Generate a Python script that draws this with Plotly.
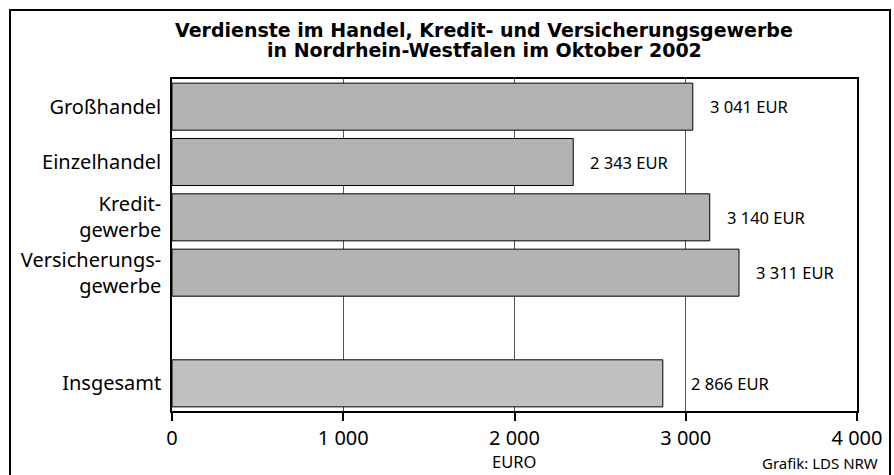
import plotly.graph_objects as go

categories = ["Großhandel", "Einzelhandel", "Kredit-<br>gewerbe", "Versicherungs-<br>gewerbe", " ", "Insgesamt"]
values = [3041, 2343, 3140, 3311, None, 2866]
value_labels = ["3 041 EUR", "2 343 EUR", "3 140 EUR", "3 311 EUR", "", "2 866 EUR"]
bar_colors = ["#b3b3b3", "#b3b3b3", "#b3b3b3", "#b3b3b3", "#b3b3b3", "#c0c0c0"]
x_tickvals = [0, 1000, 2000, 3000, 4000]
x_ticktext = ["0", "1 000", "2 000", "3 000", "4 000"]
title_lines = ["Verdienste im Handel, Kredit- und Versicherungsgewerbe",
               "in Nordrhein-Westfalen im Oktober 2002"]

FONT = "Noto Sans"
W, H = 894, 475
L, R, T, B = 172, 37, 79, 64
PW, PH = W - L - R, H - T - B


def px(x):
    return (x - L) / PW


def py(y):
    return (H - B - y) / PH


fig = go.Figure()
fig.add_trace(go.Bar(
    y=categories, x=values, orientation="h",
    marker=dict(color=bar_colors, line=dict(color="black", width=1)),
    width=0.85, hoverinfo="skip",
))

for cat, v, lab in zip(categories, values, value_labels):
    if v is None:
        continue
    fig.add_annotation(x=v, y=cat, text=lab, showarrow=False, xanchor="left",
                       xshift=26 if cat == "Insgesamt" else 15,
                       font=dict(family=FONT, size=16.5, color="black"))

# outer frame
fig.add_shape(type="rect", xref="paper", yref="paper",
              x0=px(10), x1=px(890), y0=py(480), y1=py(10),
              line=dict(color="black", width=2), fillcolor="rgba(0,0,0,0)", layer="above")

# title lines
for i, line in enumerate(title_lines):
    fig.add_annotation(xref="paper", yref="paper", x=px(484), y=py(30 + 20 * i),
                       yanchor="middle", xanchor="center", text="<b>" + line + "</b>",
                       showarrow=False, font=dict(family="DejaVu Sans", size=19, color="black"))

fig.add_annotation(xref="paper", yref="paper", x=px(514), y=py(462), yanchor="middle",
                   borderpad=0, text="EURO", showarrow=False,
                   font=dict(family=FONT, size=16.5, color="black"))
fig.add_annotation(xref="paper", yref="paper", x=px(879), y=py(463), yanchor="middle",
                   borderpad=0, xanchor="right", text="Grafik: LDS NRW", showarrow=False,
                   font=dict(family=FONT, size=15, color="black"))

fig.update_layout(
    width=W, height=H,
    margin=dict(l=L, r=R, t=T, b=B),
    paper_bgcolor="white", plot_bgcolor="white",
    showlegend=False,
    xaxis=dict(range=[0, 4000], tickvals=x_tickvals, ticktext=x_ticktext,
               showgrid=True, gridcolor="#555555", gridwidth=1,
               ticks="outside", ticklen=8, tickcolor="black", tickwidth=1.5,
               showline=True, linecolor="black", linewidth=1.5, mirror=True,
               zeroline=False, fixedrange=True, automargin=False,
               tickfont=dict(family=FONT, size=20, color="black")),
    yaxis=dict(autorange="reversed", showline=True, linecolor="black", linewidth=1.5,
               mirror=True, ticks="", ticklabelstandoff=5, automargin=False,
               fixedrange=True,
               tickfont=dict(family=FONT, size=20, color="black")),
)

fig.write_html("out.html", config={"displayModeBar": False},
               post_script="document.body.style.margin='0';")
